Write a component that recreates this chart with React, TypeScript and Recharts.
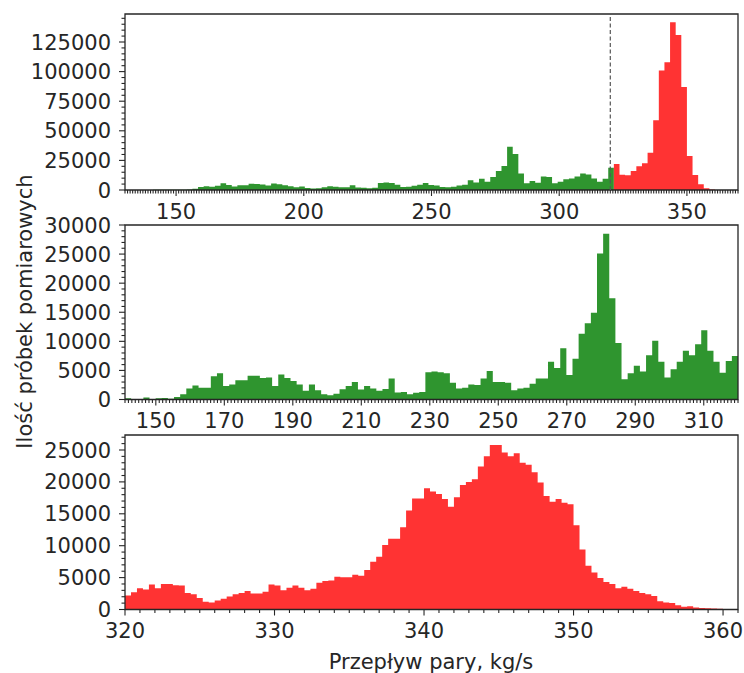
import { Area, AreaChart, ReferenceArea, ReferenceLine, XAxis, YAxis } from 'recharts';

const GREEN = '#2f952f';
const RED = '#ff3333';
const INK = '#262626';
const FONT = '"DejaVu Sans", sans-serif';
const FS = 21;

// top panel: one histogram, bins of 2.2 from 141, green up to the bin that holds 320
const topStart = 141;
const topWidth = 2.2;
const topGreen = [
  300, 150, 300, 200, 250, 300, 400, 1100, 2600, 3200,
  2700, 3500, 5800, 4200, 3000, 4100, 4100, 5200, 5000, 4700,
  3800, 5500, 4800, 4000, 3200, 2400, 3000, 1600, 1200, 1400,
  2300, 3200, 2700, 2300, 2400, 4000, 2200, 1900, 1500, 1800,
  6000, 6300, 6000, 4500, 2500, 2800, 3500, 4500, 6000, 4200,
  3800, 2500, 2400, 2700, 3700, 4400, 8200, 6400, 9500, 7000,
  11000, 16000, 20300, 36600, 30400, 14000, 5600, 7600, 6200, 11300,
  11000, 5600, 7000, 9000, 9800, 11500, 14000, 13000, 9800, 7000,
  9500, 18800,
];
const topRed = [
  22000, 12800, 12500, 16000, 20000, 22500, 31500, 59000, 101000, 108000,
  141600, 131000, 87000, 28700, 12700, 4800, 1400, 500,
];
const topThreshold = 320;

// middle panel: flows up to 320 kg/s, bins of 1.79 from 141
const midStart = 141;
const midWidth = 1.79;
const midGreen = [
  200, 100, 100, 350, 100, 200, 250, 150, 450, 900,
  1900, 2400, 2000, 2000, 4000, 4500, 2300, 2600, 3300, 3300,
  4100, 4100, 3700, 3800, 2300, 4300, 3700, 3200, 2600, 1500,
  2600, 1600, 900, 750, 1000, 1750, 2300, 3000, 1700, 2300,
  1900, 1500, 1800, 3600, 1200, 1300, 900, 1150, 1300, 4700,
  4800, 4700, 4500, 2900, 1900, 2000, 2600, 2500, 3600, 4900,
  3000, 3000, 2900, 1600, 1900, 2000, 2700, 3600, 3600, 6500,
  5400, 8800, 4200, 7000, 11300, 13100, 14900, 25100, 28500, 17400,
  9700, 3500, 4500, 5800, 4800, 7600, 10100, 6500, 3800, 5200,
  6500, 8400, 7600, 9500, 11900, 8400, 6500, 4600, 6600, 7500,
];

// bottom panel: flows above 320 kg/s, bins of 0.4 from 320
const lowStart = 320;
const lowWidth = 0.4;
const lowRed = [
  2200, 2700, 3350, 3150, 3900, 3350, 4000, 4000, 3800, 3750,
  2600, 2400, 1800, 1200, 1100, 1400, 1700, 2050, 2400, 2600,
  2900, 2500, 2500, 2800, 3900, 3750, 3000, 3400, 3750, 3400,
  3000, 3250, 4200, 4450, 4550, 5150, 5050, 5050, 5450, 5300,
  6200, 7500, 8250, 10100, 11100, 11100, 12900, 15500, 17400, 17400,
  19000, 18500, 18100, 17300, 16100, 17600, 19500, 20000, 20400, 22400,
  24000, 25800, 25800, 24600, 24000, 24500, 23000, 22700, 21500, 19900,
  17800, 16900, 17300, 16750, 16500, 13200, 9400, 6850, 5800, 4950,
  4300, 4000, 3350, 3550, 3250, 2900, 2600, 2400, 2100, 1300,
  1100, 1000, 650, 450, 500, 300, 250, 200, 150, 100,
];

const topXTicks = [150, 200, 250, 300, 350];
const topYTicks = [0, 25000, 50000, 75000, 100000, 125000];
const midXTicks = [150, 170, 190, 210, 230, 250, 270, 290, 310];
const midYTicks = [0, 5000, 10000, 15000, 20000, 25000, 30000];
const lowXTicks = [320, 330, 340, 350, 360];
const lowYTicks = [0, 5000, 10000, 15000, 20000, 25000];

const range = (from: number, to: number, step: number, skip: number[]) => {
  const out: number[] = [];
  for (let v = from; v <= to; v += step) if (!skip.includes(v)) out.push(v);
  return out;
};

const edge = (start: number, width: number, i: number) =>
  Math.round((start + width * i) * 1000) / 1000;

// step rows for a histogram: one row per left bin edge plus the closing right edge
const stepRows = (start: number, width: number, values: number[], key: string) => {
  const rows: any[] = values.map((v, i) => ({ x: edge(start, width, i), [key]: v }));
  rows.push({ x: edge(start, width, values.length), [key]: values[values.length - 1] });
  return rows;
};

const mergeRows = (keys: string[], ...sets: any[][]) => {
  const byX = new Map<number, any>();
  sets.flat().forEach((r) => byX.set(r.x, { ...(byX.get(r.x) || {}), ...r }));
  return [...byX.values()]
    .sort((a, b) => a.x - b.x)
    .map((r) => {
      const row = { ...r };
      keys.forEach((k) => {
        if (row[k] === undefined) row[k] = null;
      });
      return row;
    });
};

const topData = mergeRows(
  ['g', 'r'],
  stepRows(topStart, topWidth, topGreen, 'g'),
  stepRows(edge(topStart, topWidth, topGreen.length), topWidth, topRed, 'r'),
);
const midData = stepRows(midStart, midWidth, midGreen, 'g');
const lowData = stepRows(lowStart, lowWidth, lowRed, 'r');

const XTick = (props: any) => {
  const { x, y, payload, majors } = props;
  const major = majors.includes(payload.value);
  return (
    <g>
      <line x1={x} x2={x} y1={y} y2={y + (major ? 6 : 3.5)} stroke={INK} strokeWidth={1.1} />
      {major && (
        <text x={x} y={y + 28.5} textAnchor="middle" fontSize={FS} fontFamily={FONT} fill={INK}>
          {payload.value}
        </text>
      )}
    </g>
  );
};

const YTick = (props: any) => {
  const { x, y, payload, majors } = props;
  const major = majors.includes(payload.value);
  return (
    <g>
      <line x1={x - (major ? 6 : 3.5)} x2={x} y1={y} y2={y} stroke={INK} strokeWidth={1.1} />
      {major && (
        <text x={x - 14} y={y + 7.6} textAnchor="end" fontSize={FS} fontFamily={FONT} fill={INK}>
          {payload.value}
        </text>
      )}
    </g>
  );
};

type PanelProps = {
  top: number;
  height: number;
  marginTop: number;
  marginBottom: number;
  data: any[];
  xDomain: [number, number];
  yDomain: [number, number];
  xMajor: number[];
  xMinor: number[];
  yMajor: number[];
  yMinor: number[];
  series: { key: string; color: string }[];
  threshold?: number;
};

const Panel = (p: PanelProps) => (
  <div style={{ position: 'absolute', left: 0, top: p.top }}>
    <AreaChart
      width={744}
      height={p.height}
      data={p.data}
      margin={{ top: p.marginTop, right: 6, bottom: p.marginBottom, left: 25 }}
    >
      <XAxis
        dataKey="x"
        type="number"
        domain={p.xDomain}
        allowDataOverflow
        ticks={[...p.xMinor, ...p.xMajor]}
        interval={0}
        height={30}
        tickLine={false}
        axisLine={false}
        tickSize={0}
        tickMargin={0}
        tick={(t: any) => <XTick {...t} majors={p.xMajor} />}
      />
      <YAxis
        type="number"
        domain={p.yDomain}
        allowDataOverflow
        ticks={[...p.yMinor, ...p.yMajor]}
        interval={0}
        width={100}
        tickLine={false}
        axisLine={false}
        tickSize={0}
        tickMargin={0}
        tick={(t: any) => <YTick {...t} majors={p.yMajor} />}
      />
      {p.series.map((s) => (
        <Area
          key={s.key}
          type="stepAfter"
          dataKey={s.key}
          stroke="none"
          fill={s.color}
          fillOpacity={1}
          dot={false}
          activeDot={false}
          isAnimationActive={false}
        />
      ))}
      {p.threshold !== undefined && (
        <ReferenceLine x={p.threshold} stroke="#555" strokeWidth={1.2} strokeDasharray="4 2.5" />
      )}
      <ReferenceArea
        x1={p.xDomain[0]}
        x2={p.xDomain[1]}
        y1={p.yDomain[0]}
        y2={p.yDomain[1]}
        fill="none"
        stroke={INK}
        strokeWidth={1.3}
        ifOverflow="visible"
      />
    </AreaChart>
  </div>
);

export default function App() {
  return (
    <div style={{ position: 'absolute', left: 0, top: 0, width: 744, height: 673, background: '#fff' }}>
      <Panel
        top={0}
        height={230}
        marginTop={14}
        marginBottom={10}
        data={topData}
        xDomain={[130, 370]}
        yDomain={[0, 148650]}
        xMajor={topXTicks}
        xMinor={range(130, 370, 1, topXTicks)}
        yMajor={topYTicks}
        yMinor={range(0, 145000, 5000, topYTicks)}
        series={[
          { key: 'g', color: GREEN },
          { key: 'r', color: RED },
        ]}
        threshold={topThreshold}
      />
      <Panel
        top={200}
        height={240}
        marginTop={25}
        marginBottom={10.5}
        data={midData}
        xDomain={[141, 320]}
        yDomain={[0, 30000]}
        xMajor={midXTicks}
        xMinor={range(141, 320, 1, midXTicks)}
        yMajor={midYTicks}
        yMinor={range(0, 30000, 1000, midYTicks)}
        series={[{ key: 'g', color: GREEN }]}
      />
      <Panel
        top={410}
        height={263}
        marginTop={25}
        marginBottom={33.5}
        data={lowData}
        xDomain={[320, 361]}
        yDomain={[0, 27350]}
        xMajor={lowXTicks}
        xMinor={range(320, 361, 1, lowXTicks)}
        yMajor={lowYTicks}
        yMinor={range(0, 27000, 1000, lowYTicks)}
        series={[{ key: 'r', color: RED }]}
      />
      <svg
        width={744}
        height={673}
        style={{ position: 'absolute', left: 0, top: 0, pointerEvents: 'none' }}
      >
        <text
          transform="translate(31.5, 311.5) rotate(-90)"
          textAnchor="middle"
          fontSize={FS}
          fontFamily={FONT}
          fill={INK}
        >
          Ilość próbek pomiarowych
        </text>
        <text x={431} y={668.5} textAnchor="middle" fontSize={FS} fontFamily={FONT} fill={INK}>
          Przepływ pary, kg/s
        </text>
      </svg>
    </div>
  );
}
